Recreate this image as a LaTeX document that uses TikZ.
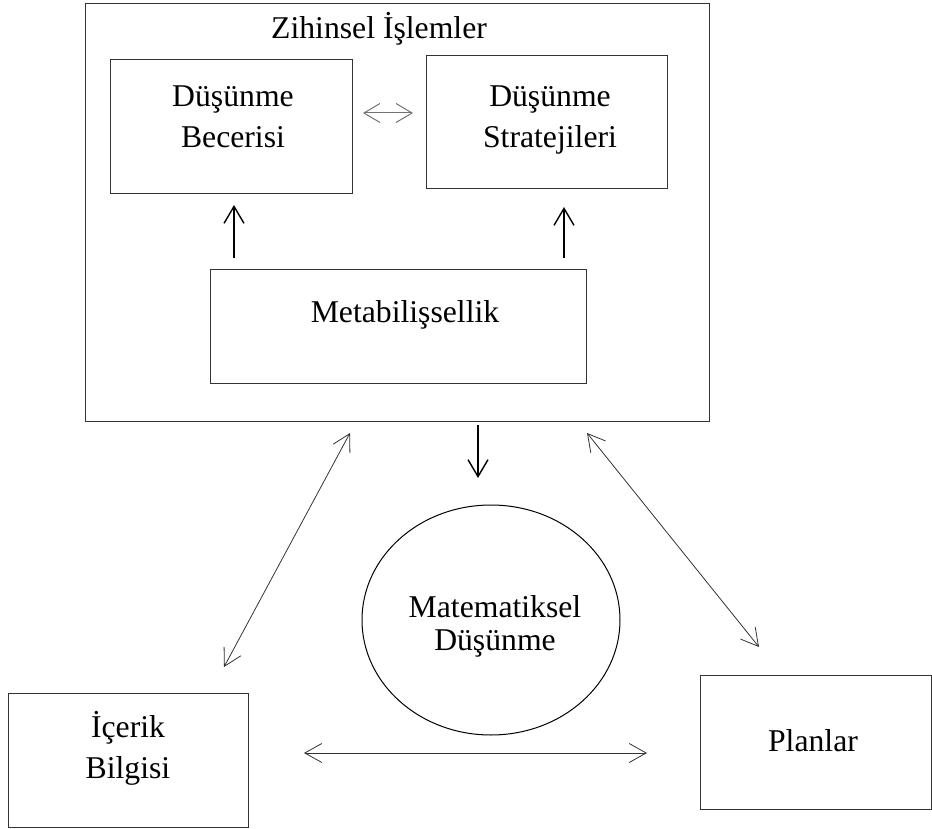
\documentclass[tikz,border=0pt]{standalone}
\usepackage{fontspec}
\setmainfont{Liberation Serif}
\usetikzlibrary{arrows.meta,shapes.geometric}
\begin{document}
\begin{tikzpicture}[x=1pt,y=-1pt,
  box/.style={draw=black!80, line width=1.1pt, inner sep=0pt, anchor=north west},
  lbl/.style={font=\fontsize{31.7}{41}\selectfont, anchor=base, inner sep=0pt},
  thinarr/.style={draw=black!80, line width=0.8pt, {Straight Barb[length=17pt,width=19pt]}-{Straight Barb[length=17pt,width=19pt]}},
  greyarr/.style={draw=black!55, line width=1pt, {Straight Barb[length=16pt,width=19pt]}-{Straight Barb[length=16pt,width=19pt]}},
  boldarr/.style={draw=black, line width=1.4pt, -{Straight Barb[length=17pt,width=20pt]}}]
\useasboundingbox (0,0) rectangle (932,829);

% outer frame
\node[box, minimum width=624pt, minimum height=418pt] (outer) at (85,3) {};
\node[lbl] (title) at (379,39) {Zihinsel İşlemler};

% top boxes
\node[box, minimum width=242pt, minimum height=134pt] (beceri) at (110,59) {};
\node[lbl] (beceriA) at (233,107) {Düşünme};
\node[lbl] (beceriB) at (233,148) {Becerisi};

\node[box, minimum width=241pt, minimum height=133pt] (strat) at (426,55) {};
\node[lbl] (stratA) at (550,107) {Düşünme};
\node[lbl] (stratB) at (550,148) {Stratejileri};

\node[box, minimum width=376pt, minimum height=114pt] (meta) at (210,269) {};
\node[lbl] (metaA) at (405,322) {Metabilişsellik};

% ellipse
\node[draw=black, line width=1pt, ellipse, minimum width=258pt, minimum height=230pt, inner sep=0pt] (mat) at (491,620) {};
\node[lbl] (matA) at (495,617) {Matematiksel};
\node[lbl] (matB) at (495,650) {Düşünme};

% bottom boxes
\node[box, minimum width=240pt, minimum height=134pt] (icerik) at (8,693) {};
\node[lbl] (icerikA) at (128,737) {İçerik};
\node[lbl] (icerikB) at (128,778) {Bilgisi};

\node[box, minimum width=231pt, minimum height=134pt] (plan) at (700,675) {};
\node[lbl] (planA) at (813,751) {Planlar};

% connector end points
\coordinate (topL) at (363,113);
\coordinate (topR) at (413,113);
\coordinate (upAs) at (234,258);
\coordinate (upAe) at (234,205);
\coordinate (upBs) at (564,258);
\coordinate (upBe) at (564,207);
\coordinate (downS) at (478,425);
\coordinate (downE) at (478,478);
\coordinate (diagLt) at (350,433);
\coordinate (diagLb) at (224,667);
\coordinate (diagRt) at (587,433);
\coordinate (diagRb) at (759,647);
\coordinate (botL) at (304,753);
\coordinate (botR) at (647,753);

% connectors
\draw[greyarr] (topL) -- (topR);
\draw[boldarr] (upAs) -- (upAe);
\draw[boldarr] (upBs) -- (upBe);
\draw[boldarr] (downS) -- (downE);
\draw[thinarr] (diagLt) -- (diagLb);
\draw[thinarr] (diagRt) -- (diagRb);
\draw[thinarr] (botL) -- (botR);
\end{tikzpicture}
\end{document}
